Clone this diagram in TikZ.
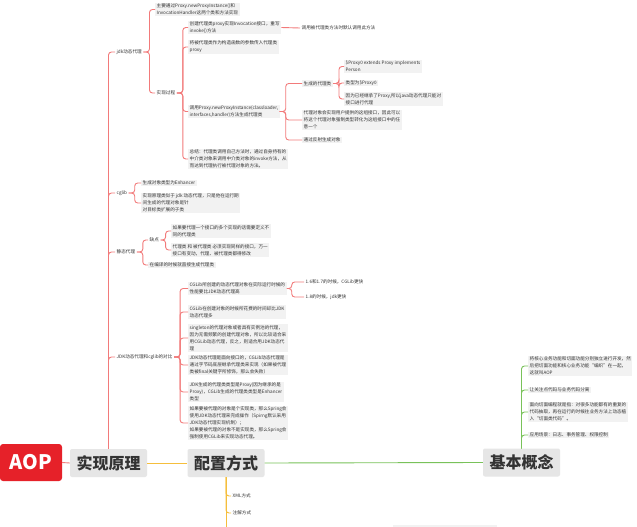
\documentclass[tikz,border=0pt]{standalone}
\usepackage{fontspec}
\setmainfont{Noto Sans CJK SC}
\definecolor{redb}{HTML}{F27A7A}
\definecolor{orab}{HTML}{F5BE3C}
\definecolor{greb}{HTML}{79C25A}
\definecolor{aopred}{HTML}{E62129}
\definecolor{mainbg}{HTML}{E6E6E6}
\definecolor{leafbg}{HTML}{F2F2F2}
\definecolor{txt}{HTML}{333333}
\begin{document}
\begin{tikzpicture}[x=1pt,y=-1pt,
  leaf/.style={anchor=west, fill=leafbg, align=left, inner xsep=1.5pt, inner ysep=1pt, font=\fontsize{4.6}{7}\selectfont, text=txt},
  lab/.style={leaf, fill=none},
  mainbox/.style={fill=mainbg, rounded corners=2pt, minimum width=77pt, minimum height=28pt, inner sep=0pt, font=\fontsize{16}{18}\selectfont\bfseries, text=txt},
  rl/.style={draw=redb, line width=0.9pt, rounded corners=3pt},
  ol/.style={draw=orab, line width=0.9pt, rounded corners=3pt},
  gl/.style={draw=greb, line width=0.9pt, rounded corners=3pt}]
\useasboundingbox (0,0) rectangle (637,527);
\fill[white] (0,0) rectangle (637,527);

% main nodes
\node[fill=aopred, rounded corners=3pt, minimum width=62pt, minimum height=37pt, inner sep=0pt, text=white, font=\fontsize{20}{22}\selectfont\bfseries] (aop) at (31,462.5) {AOP};
\node[mainbox] (sx) at (108.5,463) {实现原理};
\node[mainbox] (pz) at (226,463) {配置方式};
\node[mainbox] (jb) at (521.5,462.5) {基本概念};

% red branch
\node[lab] (jdk) at (115,52) {jdk动态代理};
\node[leaf] (n1) at (155,9.5) {主要通过Proxy.newProxyInstance()和\\InvocationHandler这两个类和方法实现};
\node[lab] (sg) at (155,93) {实现过程};
\node[leaf] (c1) at (188,27.5) {创建代理类proxy实现Invocation接口，重写\\invoke()方法};
\node[lab] (d1) at (300,28) {调用被代理类方法时默认调用此方法};
\node[leaf] (c2) at (188,47) {将被代理类作为构造函数的参数传入代理类\\proxy};
\node[leaf] (c3) at (188,111.5) {调用Proxy.newProxyInstance(classloader,\\interfaces,handler)方法生成代理类};
\node[leaf] (c4) at (188,159) {总结：代理类调用自己方法时，通过自身持有的\\中介类对象来调用中介类对象的invoke方法，从\\而达到代理执行被代理对象的方法。};
\node[leaf] (e1) at (302,83.5) {生成的代理类};
\node[leaf] (e2) at (302,120) {代理对象会实现用户提供的这组接口，因此可以\\将这个代理对象强制类型转化为这组接口中的任\\意一个};
\node[leaf] (e3) at (302,140) {通过反射生成对象};
\node[leaf] (f1) at (344,66.5) {\$Proxy0 extends Proxy implements\\Person};
\node[leaf] (f2) at (344,83) {类型为\$Proxy0};
\node[leaf] (f3) at (344,99) {因为已经继承了Proxy,所以java动态代理只能对\\接口进行代理};

\node[lab] (cg) at (115,193) {cglib};
\node[leaf] (g1) at (141,183) {生成对象类型为Enhancer};
\node[leaf] (g2) at (141,203) {实现原理类似于 jdk 动态代理，只是他在运行期\\间生成的代理对象是针\\对目标类扩展的子类};

\node[lab] (jt) at (115,252) {静态代理};
\node[lab] (qd) at (148,240) {缺点};
\node[leaf] (h2) at (148,265) {在编译的时候就直接生成代理类};
\node[leaf] (i1) at (171,231) {如果要代理一个接口的多个实现的话需要定义不\\同的代理类};
\node[leaf] (i2) at (171,250) {代理类 和 被代理类 必须实现同样的接口，万一\\接口有变动，代理、被代理类都得修改};

\node[lab] (db) at (115,357) {JDK动态代理和cglib的对比};
\node[leaf] (j1) at (188,288.5) {CGLib所创建的动态代理对象在实际运行时候的\\性能要比JDK动态代理高};
\node[lab] (k1) at (304,282) {1.6和1.7的时候，CGLib更快};
\node[lab] (k2) at (304,297) {1.8的时候，jdk更快};
\node[leaf] (j2) at (188,312) {CGLib在创建对象的时候所花费的时间却比JDK\\动态代理多};
\node[leaf] (j3) at (188,338) {singleton的代理对象或者具有实例池的代理，\\因为无需频繁的创建代理对象，所以比较适合采\\用CGLib动态代理，反之，则适合用JDK动态代\\理};
\node[leaf] (j4) at (188,365) {JDK动态代理是面向接口的，CGLib动态代理是\\通过字节码底层继承代理类来实现（如果被代理\\类被final关键字所修饰，那么会失败）};
\node[leaf] (j5) at (188,392) {JDK生成的代理类类型是Proxy(因为继承的是\\Proxy)，CGLib生成的代理类类型是Enhancer\\类型};
\node[leaf] (j6) at (188,423) {如果要被代理的对象是个实现类，那么Spring会\\使用JDK动态代理来完成操作（Spirng默认采用\\JDK动态代理实现机制）；\\如果要被代理的对象不是实现类，那么Spring会\\强制使用CGLib来实现动态代理。};

% orange branch
\node[lab] (xml) at (231,496) {XML方式};
\node[lab] (zj) at (231,513) {注解方式};
\coordinate (obot) at (226,535);
\fill[leafbg] (393,525) rectangle (497,540);

% green branch
\node[leaf] (m1) at (528,366) {将核心业务功能和切面功能分别独立进行开发，然\\后把切面功能和核心业务功能“编织”在一起，\\这就叫AOP};
\node[leaf] (m2) at (528,390) {让关注点代码与业务代码分离};
\node[leaf] (m3) at (528,412) {面向切面编程就是指：对很多功能都有的重复的\\代码抽取，再在运行的时候往业务方法上动态植\\入“切面类代码”。};
\node[leaf] (m4) at (528,435) {应用场景：日志、事务管理、权限控制};

% main connectors
\draw[rl] (aop.east) -- (sx.west);
\draw[ol] (sx.east) -- (pz.west);
\draw[gl] (pz.east) -- (jb.west);

% red connectors
\foreach \c in {jdk,cg,jt,db} \draw[rl] (sx.north) |- (\c.west);
\foreach \c in {n1,sg} \draw[rl] (jdk.east) -- ++(6,0) |- (\c.west);
\foreach \c in {c1,c2,c3,c4} \draw[rl] (sg.east) -- ++(6,0) |- (\c.west);
\draw[rl] (c1.east) -- (d1.west);
\foreach \c in {e1,e2,e3} \draw[rl] (c3.east) -- ++(6,0) |- (\c.west);
\foreach \c in {f1,f2,f3} \draw[rl] (e1.east) -- ++(6,0) |- (\c.west);
\foreach \c in {g1,g2} \draw[rl] (cg.east) -- ++(6,0) |- (\c.west);
\foreach \c in {qd,h2} \draw[rl] (jt.east) -- ++(6,0) |- (\c.west);
\foreach \c in {i1,i2} \draw[rl] (qd.east) -- ++(5,0) |- (\c.west);
\foreach \c in {j1,j2,j3,j4,j5,j6} \draw[rl] (db.east) -- ++(6,0) |- (\c.west);
\foreach \c in {k1,k2} \draw[rl] (j1.east) -- ++(5,0) |- (\c.west);

% orange connectors
\foreach \c in {xml,zj} \draw[ol] (pz.south) |- (\c.west);
\draw[ol] (pz.south) -- (obot);

% green connectors
\foreach \c in {m1,m2,m3,m4} \draw[gl] (jb.north) |- (\c.west);
\end{tikzpicture}
\end{document}
